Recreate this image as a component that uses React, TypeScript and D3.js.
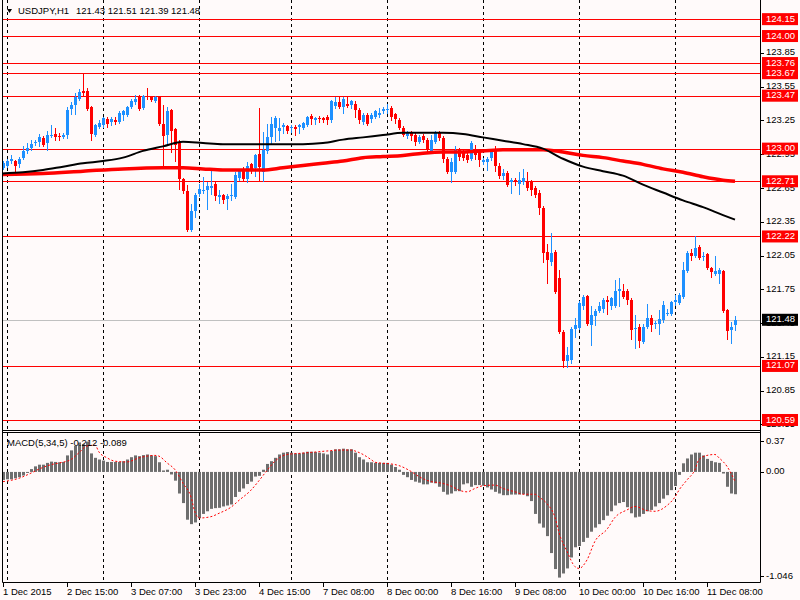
import React from "react";
import * as d3 from "d3";

// ---------- DATA ----------
const opens = [
  122.83,122.85,122.89,122.89,122.86,122.92,122.98,123.01,123.05,123.06,
  123.09,123.05,123.11,123.13,123.11,123.10,123.12,123.35,123.39,123.44,
  123.51,123.51,123.37,123.12,123.19,123.21,123.26,123.24,123.25,123.24,
  123.30,123.30,123.37,123.41,123.46,123.36,123.47,123.46,123.42,123.46,
  123.22,123.12,123.34,123.17,123.06,122.73,122.62,122.28,122.45,122.60,
  122.62,122.63,122.65,122.69,122.57,122.59,122.55,122.58,122.57,122.74,
  122.80,122.73,122.86,122.83,122.95,122.79,122.98,123.10,123.18,123.16,
  123.19,123.20,123.18,123.19,123.19,123.18,123.21,123.29,123.25,123.27,
  123.27,123.28,123.25,123.38,123.41,123.37,123.40,123.39,123.40,123.34,
  123.24,123.30,123.26,123.28,123.30,123.33,123.34,123.36,123.31,123.25,
  123.18,123.11,123.14,123.12,123.06,123.11,123.08,122.98,123.06,123.14,
  123.09,122.91,122.79,122.79,122.99,122.96,122.94,122.91,123.00,122.96,
  122.88,122.88,122.92,123.00,122.85,122.76,122.78,122.70,122.72,122.69,
  122.70,122.71,122.70,122.65,122.61,122.47,122.08,121.99,122.08,121.85,
  121.37,121.11,121.12,121.40,121.41,121.60,121.69,121.43,121.51,121.56,
  121.58,121.66,121.60,121.60,121.74,121.74,121.74,121.66,121.40,121.42,
  121.28,121.42,121.50,121.44,121.44,121.48,121.53,121.53,121.64,121.63,
  121.68,121.91,122.07,122.05,122.13,122.04,122.06,121.94,121.89,121.89,
  121.91,121.57,121.39,121.43
];
const highs = [
  122.89,122.91,122.94,122.90,122.93,123.02,123.05,123.08,123.08,123.13,
  123.11,123.16,123.21,123.18,123.14,123.14,123.37,123.41,123.49,123.53,
  123.66,123.54,123.38,123.22,123.25,123.28,123.28,123.28,123.28,123.33,
  123.34,123.38,123.44,123.48,123.48,123.48,123.54,123.47,123.47,123.47,
  123.39,123.37,123.35,123.18,123.08,122.74,122.68,122.51,122.61,122.69,
  122.75,122.70,122.83,122.70,122.63,122.60,122.60,122.69,122.79,122.81,
  122.84,122.88,122.87,122.95,123.36,123.15,123.22,123.28,123.29,123.27,
  123.23,123.21,123.21,123.21,123.22,123.24,123.29,123.31,123.28,123.29,
  123.28,123.30,123.43,123.46,123.46,123.46,123.46,123.43,123.42,123.36,
  123.32,123.32,123.32,123.34,123.36,123.37,123.40,123.38,123.32,123.27,
  123.20,123.16,123.16,123.14,123.12,123.13,123.09,123.12,123.16,123.16,
  123.11,122.93,122.92,123.02,123.01,122.99,122.96,123.07,123.03,122.99,
  122.92,122.93,123.00,123.02,122.87,122.82,122.80,122.74,122.74,122.79,
  122.82,122.79,122.72,122.67,122.63,122.49,122.15,122.25,122.10,121.92,
  121.39,121.24,121.42,121.50,121.65,121.70,121.70,121.60,121.58,121.64,
  121.67,121.69,121.68,121.83,121.85,121.80,121.75,121.67,121.52,121.44,
  121.44,121.62,121.52,121.47,121.57,121.65,121.58,121.65,121.70,121.72,
  121.99,122.09,122.11,122.22,122.14,122.08,122.07,121.95,122.05,121.94,
  121.92,121.58,121.46,121.51
];
const lows = [
  122.82,122.84,122.87,122.79,122.84,122.91,122.96,122.99,123.03,123.02,
  123.02,122.99,123.10,123.08,123.08,123.09,123.09,123.31,123.31,123.43,
  123.48,123.34,123.08,123.11,123.18,123.19,123.19,123.21,123.22,123.23,
  123.25,123.29,123.36,123.40,123.34,123.35,123.44,123.42,123.41,123.21,
  122.85,123.03,122.97,122.89,122.64,122.61,122.27,122.27,122.39,122.58,
  122.61,122.46,122.60,122.54,122.52,122.52,122.46,122.54,122.56,122.72,
  122.71,122.70,122.78,122.76,122.71,122.71,122.96,123.05,123.07,123.08,
  123.14,123.14,123.15,123.12,123.14,123.17,123.20,123.22,123.22,123.24,
  123.24,123.22,123.24,123.36,123.36,123.32,123.37,123.36,123.28,123.23,
  123.22,123.21,123.24,123.27,123.28,123.32,123.32,123.25,123.23,123.17,
  123.11,123.09,123.08,123.03,123.05,123.06,122.97,122.96,123.05,123.08,
  122.88,122.78,122.70,122.78,122.90,122.90,122.88,122.90,122.91,122.85,
  122.86,122.81,122.90,122.80,122.74,122.73,122.67,122.61,122.68,122.60,
  122.69,122.63,122.59,122.57,122.42,121.99,121.81,121.97,121.72,121.36,
  121.06,121.06,121.10,121.33,121.40,121.58,121.43,121.26,121.43,121.55,
  121.55,121.53,121.58,121.59,121.60,121.67,121.62,121.31,121.23,121.24,
  121.27,121.41,121.38,121.41,121.35,121.46,121.52,121.52,121.61,121.62,
  121.67,121.90,122.01,122.04,122.02,122.01,121.93,121.86,121.88,121.81,
  121.55,121.31,121.27,121.39
];
const closes = [
  122.87,122.89,122.91,122.85,122.91,122.98,123.01,123.04,123.06,123.10,
  123.03,123.12,123.12,123.10,123.10,123.12,123.34,123.39,123.46,123.50,
  123.49,123.35,123.13,123.21,123.23,123.27,123.22,123.26,123.24,123.32,
  123.33,123.37,123.42,123.44,123.35,123.47,123.46,123.43,123.46,123.22,
  123.11,123.33,123.16,123.03,122.73,122.62,122.28,122.45,122.59,122.64,
  122.63,122.67,122.67,122.58,122.59,122.54,122.58,122.59,122.77,122.80,
  122.73,122.85,122.81,122.94,122.84,122.99,123.10,123.22,123.27,123.18,
  123.21,123.16,123.19,123.17,123.21,123.23,123.28,123.26,123.27,123.26,
  123.25,123.25,123.42,123.41,123.37,123.44,123.38,123.42,123.34,123.25,
  123.30,123.22,123.30,123.33,123.32,123.35,123.35,123.28,123.26,123.18,
  123.12,123.14,123.11,123.06,123.10,123.08,123.00,123.08,123.15,123.09,
  122.91,122.79,122.88,122.99,122.93,122.92,122.90,123.05,122.94,122.90,
  122.90,122.91,122.97,122.85,122.76,122.78,122.68,122.72,122.71,122.72,
  122.74,122.65,122.63,122.59,122.47,122.07,122.01,122.07,121.73,121.37,
  121.11,121.17,121.40,121.43,121.63,121.68,121.44,121.52,121.56,121.60,
  121.66,121.64,121.67,121.74,121.75,121.68,121.66,121.39,121.41,121.29,
  121.42,121.50,121.43,121.45,121.49,121.61,121.54,121.64,121.66,121.70,
  121.92,122.07,122.05,122.12,122.03,122.05,121.94,121.90,121.91,121.92,
  121.56,121.38,121.42,121.48
];

const blackMaIdx = [0,5,10,15,20,25,30,35,40,45,50,55,60,65,70,75,80,85,90,95,100,105,110,115,120,125,130,135,140,145,150,155,160,165,170,175,180,183];
const blackMaVal = [122.78,122.79,122.81,122.84,122.87,122.89,122.92,122.98,123.02,123.06,123.05,123.04,123.04,123.04,123.04,123.04,123.05,123.08,123.10,123.12,123.14,123.14,123.14,123.13,123.10,123.07,123.04,123.00,122.91,122.84,122.80,122.76,122.68,122.61,122.54,122.48,122.41,122.37];

const redMaIdx = [0,10,20,30,40,45,50,55,60,65,70,75,80,85,90,95,100,105,110,115,120,125,130,135,140,145,150,155,160,165,170,175,180,183];
const redMaVal = [122.77,122.78,122.80,122.82,122.83,122.83,122.82,122.81,122.81,122.81,122.83,122.85,122.87,122.89,122.92,122.93,122.94,122.96,122.97,122.97,122.98,122.99,122.99,122.99,122.97,122.94,122.92,122.89,122.86,122.82,122.79,122.75,122.72,122.71];

const macdMain = [
  -0.076,-0.070,-0.070,-0.060,-0.050,-0.034,-0.005,0.027,0.053,0.069,
  0.069,0.086,0.098,0.095,0.092,0.095,0.157,0.205,0.247,0.280,
  0.263,0.286,0.176,0.134,0.118,0.108,0.095,0.095,0.095,0.095,
  0.102,0.118,0.140,0.157,0.150,0.160,0.166,0.157,0.150,0.092,
  0.014,0.021,-0.024,-0.083,-0.205,-0.296,-0.454,-0.496,-0.480,-0.438,
  -0.399,-0.374,-0.351,-0.344,-0.341,-0.328,-0.319,-0.309,-0.238,-0.189,
  -0.157,-0.115,-0.092,-0.044,-0.037,0.021,0.076,0.102,0.134,0.166,
  0.183,0.189,0.183,0.176,0.176,0.183,0.192,0.192,0.189,0.183,
  0.176,0.166,0.199,0.215,0.215,0.221,0.215,0.215,0.183,0.140,
  0.118,0.092,0.092,0.086,0.086,0.086,0.086,0.069,0.047,0.021,
  -0.028,-0.050,-0.076,-0.092,-0.102,-0.118,-0.118,-0.102,-0.108,-0.141,
  -0.189,-0.215,-0.205,-0.183,-0.183,-0.118,-0.108,-0.141,-0.125,-0.125,
  -0.131,-0.147,-0.167,-0.189,-0.205,-0.221,-0.221,-0.215,-0.215,-0.215,
  -0.212,-0.231,-0.277,-0.399,-0.490,-0.529,-0.610,-0.771,-0.923,-1.004,
  -0.965,-0.917,-0.813,-0.716,-0.704,-0.665,-0.626,-0.568,-0.529,-0.496,
  -0.458,-0.416,-0.374,-0.319,-0.296,-0.286,-0.335,-0.393,-0.432,-0.425,
  -0.399,-0.374,-0.361,-0.328,-0.296,-0.254,-0.221,-0.173,-0.134,-0.028,
  0.082,0.128,0.166,0.183,0.183,0.157,0.124,0.105,0.092,0.086,
  -0.015,-0.141,-0.205,-0.212
];

const signalIdx = [0,4,7,9,12,14,17,19,21,23,24,26,28,31,34,38,39,41,43,45,47,48,49,52,54,57,59,62,64,66,68,71,74,78,81,84,87,88,90,92,93,94,97,99,102,104,107,109,112,114,116,118,120,123,125,128,130,133,134,136,138,139,141,143,144,146,148,151,153,156,158,161,163,166,168,169,171,173,174,176,178,179,181,183];
const signalVal = [-0.092,-0.060,-0.011,0.027,0.069,0.085,0.118,0.183,0.247,0.254,0.189,0.134,0.102,0.095,0.134,0.157,0.150,0.086,0.021,-0.108,-0.238,-0.383,-0.438,-0.425,-0.393,-0.335,-0.270,-0.173,-0.083,0.014,0.102,0.166,0.176,0.189,0.199,0.208,0.208,0.199,0.166,0.118,0.092,0.086,0.076,0.060,0.005,-0.044,-0.092,-0.102,-0.134,-0.173,-0.189,-0.157,-0.131,-0.125,-0.157,-0.189,-0.212,-0.212,-0.238,-0.302,-0.432,-0.577,-0.755,-0.900,-0.917,-0.836,-0.658,-0.545,-0.432,-0.361,-0.328,-0.367,-0.374,-0.319,-0.238,-0.173,-0.076,0.021,0.118,0.157,0.166,0.134,0.053,-0.089];

const levelLines = [124.15, 124.0, 123.76, 123.67, 123.47, 123.0, 122.71, 122.22, 121.07, 120.59];
const bidPrice = 121.48;
const priceTicks = [123.85, 123.55, 123.25, 122.95, 122.65, 122.35, 122.05, 121.75, 121.45, 121.15, 120.85, 120.55];
const macdTicks = ["0.37", "0.00", "-1.046"];
const timeLabelIdx = [0, 16, 32, 48, 64, 80, 96, 112, 128, 144, 160, 176];
const timeLabels = ["1 Dec 2015", "2 Dec 15:00", "3 Dec 07:00", "3 Dec 23:00", "4 Dec 15:00", "7 Dec 08:00", "8 Dec 00:00", "8 Dec 16:00", "9 Dec 08:00", "10 Dec 00:00", "10 Dec 16:00", "11 Dec 08:00"];
const daySeparatorIdx = [1, 25, 49, 72, 96, 120, 144, 168];
const symbol = "USDJPY,H1";
const macdName = "MACD(5,34,5)";

// ---------- CHART ----------
export default function App() {
  const n = closes.length;
  const left = 3, right = 760, mainBottom = 430, macdTop = 433, macdBottom = 582;
  const x = d3.scaleLinear().domain([0, n - 1]).range([3, 735]);
  const y = d3.scaleLinear().domain([120.51, 124.32]).range([429, 0]);
  const ym = d3.scaleLinear().domain([-1.046, 0.37]).range([macdBottom, macdTop]);
  const font = "'Liberation Sans', Arial, sans-serif";
  const fs = 9.5;
  const bull = "#1e90ff", bear = "#ff0000";

  const maPath = (idx: number[], vals: number[]) =>
    d3.line<number>().x((_, k) => x(idx[k])).y((v) => y(v)).curve(d3.curveMonotoneX)(vals) || "";
  const sigPath =
    d3.line<number>().x((_, k) => x(signalIdx[k])).y((v) => ym(v)).curve(d3.curveMonotoneX)(signalVal) || "";

  const last = n - 1;
  const titleVals = [opens[last], highs[last], lows[last], closes[last]].map((v) => v.toFixed(2)).join(" ");
  const macdLabel = `${macdName} ${macdMain[last].toFixed(3)} ${signalVal[signalVal.length - 1].toFixed(3)}`;
  const macdTickVals = macdTicks.map(Number);

  return (
    <svg width={800} height={600} style={{ position: "absolute", left: 0, top: 0, display: "block" }}
      fontFamily={font} fontSize={fs}>
      <defs>
        <clipPath id="mainClip"><rect x={left} y={0} width={right - left} height={mainBottom} /></clipPath>
        <clipPath id="macdClip"><rect x={left} y={macdTop} width={right - left} height={macdBottom - macdTop} /></clipPath>
      </defs>
      <rect x={0} y={0} width={800} height={600} fill="#fffafa" />

      {/* day separators */}
      {daySeparatorIdx.map((i) => (
        <g key={"sep" + i}>
          <line x1={x(i) + 0.5} x2={x(i) + 0.5} y1={0} y2={mainBottom} stroke="#000" strokeDasharray="3,3" />
          <line x1={x(i) + 0.5} x2={x(i) + 0.5} y1={macdTop} y2={macdBottom} stroke="#000" strokeDasharray="3,3" />
        </g>
      ))}

      {/* main panel */}
      <g clipPath="url(#mainClip)">
        {levelLines.map((v) => (
          <line key={"lv" + v} x1={left} x2={right} y1={Math.round(y(v)) + 0.5} y2={Math.round(y(v)) + 0.5} stroke="#ff0000" />
        ))}
        <line x1={left} x2={right} y1={Math.round(y(bidPrice)) + 0.5} y2={Math.round(y(bidPrice)) + 0.5} stroke="#c0c0c0" />
        {closes.map((c, i) => {
          const o = opens[i];
          const col = c > o ? bull : bear;
          const cx = x(i);
          const yt = Math.round(y(Math.max(o, c)));
          const yb = Math.round(y(Math.min(o, c)));
          return (
            <g key={"c" + i}>
              <line x1={cx + 0.5} x2={cx + 0.5} y1={Math.round(y(highs[i]))} y2={Math.round(y(lows[i])) + 1} stroke={col} />
              <rect x={cx - 1} y={yt} width={3} height={Math.max(1, yb - yt)} fill={col} />
            </g>
          );
        })}
        <path d={maPath(redMaIdx, redMaVal)} fill="none" stroke="#ff0000" strokeWidth={3.5} />
        <path d={maPath(blackMaIdx, blackMaVal)} fill="none" stroke="#000" strokeWidth={2} />
      </g>

      {/* macd panel */}
      <g clipPath="url(#macdClip)">
        {macdMain.map((v, i) => {
          const y0 = ym(0), y1 = ym(v);
          return <rect key={"m" + i} x={x(i) - 1} y={Math.min(y0, y1)} width={3} height={Math.max(1, Math.abs(y1 - y0))} fill="#6e6e6e" />;
        })}
        <path d={sigPath} fill="none" stroke="#ff0000" strokeWidth={1} strokeDasharray="2,2" />
      </g>

      {/* frames */}
      <line x1={2.5} x2={2.5} y1={0} y2={macdBottom + 0.5} stroke="#000" />
      <line x1={right + 0.5} x2={right + 0.5} y1={0} y2={macdBottom + 0.5} stroke="#000" />
      <line x1={2.5} x2={right + 0.5} y1={mainBottom + 0.5} y2={mainBottom + 0.5} stroke="#000" />
      <line x1={2.5} x2={right + 0.5} y1={macdTop - 0.5} y2={macdTop - 0.5} stroke="#000" />
      <line x1={2.5} x2={right + 0.5} y1={macdBottom + 0.5} y2={macdBottom + 0.5} stroke="#000" />

      {/* title */}
      <polygon points="7,9 12,9 9.5,13" fill="#000" />
      <text x={18} y={11} dominantBaseline="middle" fill="#000">
        <tspan x={18}>{symbol}</tspan>
        <tspan x={76}>{titleVals}</tspan>
      </text>
      <text x={7} y={443} dominantBaseline="middle" fill="#000">{macdLabel}</text>

      {/* price axis */}
      {priceTicks.map((v) => (
        <g key={"pt" + v}>
          <line x1={right} x2={right + 4} y1={Math.round(y(v)) + 0.5} y2={Math.round(y(v)) + 0.5} stroke="#000" />
          <text x={766} y={y(v)} dominantBaseline="middle" fill="#000">{v.toFixed(2)}</text>
        </g>
      ))}
      {levelLines.map((v) => (
        <g key={"tag" + v}>
          <rect x={762} y={y(v) - 6} width={36} height={12} fill="#ff0000" />
          <text x={766} y={y(v)} dominantBaseline="middle" fill="#fff">{v.toFixed(2)}</text>
        </g>
      ))}
      <rect x={762} y={y(bidPrice) - 6} width={36} height={12} fill="#000" />
      <text x={766} y={y(bidPrice)} dominantBaseline="middle" fill="#fff">{bidPrice.toFixed(2)}</text>

      {/* macd axis */}
      {macdTickVals.map((v, k) => {
        const ty = Math.min(Math.max(ym(v), macdTop + 8), macdBottom - 6);
        return (
          <g key={"mt" + k}>
            <line x1={right} x2={right + 4} y1={Math.round(ty) + 0.5} y2={Math.round(ty) + 0.5} stroke="#000" />
            <text x={766} y={ty} dominantBaseline="middle" fill="#000">{macdTicks[k]}</text>
          </g>
        );
      })}

      {/* time axis */}
      {timeLabelIdx.map((i, k) => (
        <g key={"tl" + i}>
          <line x1={x(i) + 0.5} x2={x(i) + 0.5} y1={macdBottom} y2={macdBottom + 5} stroke="#000" />
          <text x={x(i)} y={595} fill="#000">{timeLabels[k]}</text>
        </g>
      ))}
    </svg>
  );
}
